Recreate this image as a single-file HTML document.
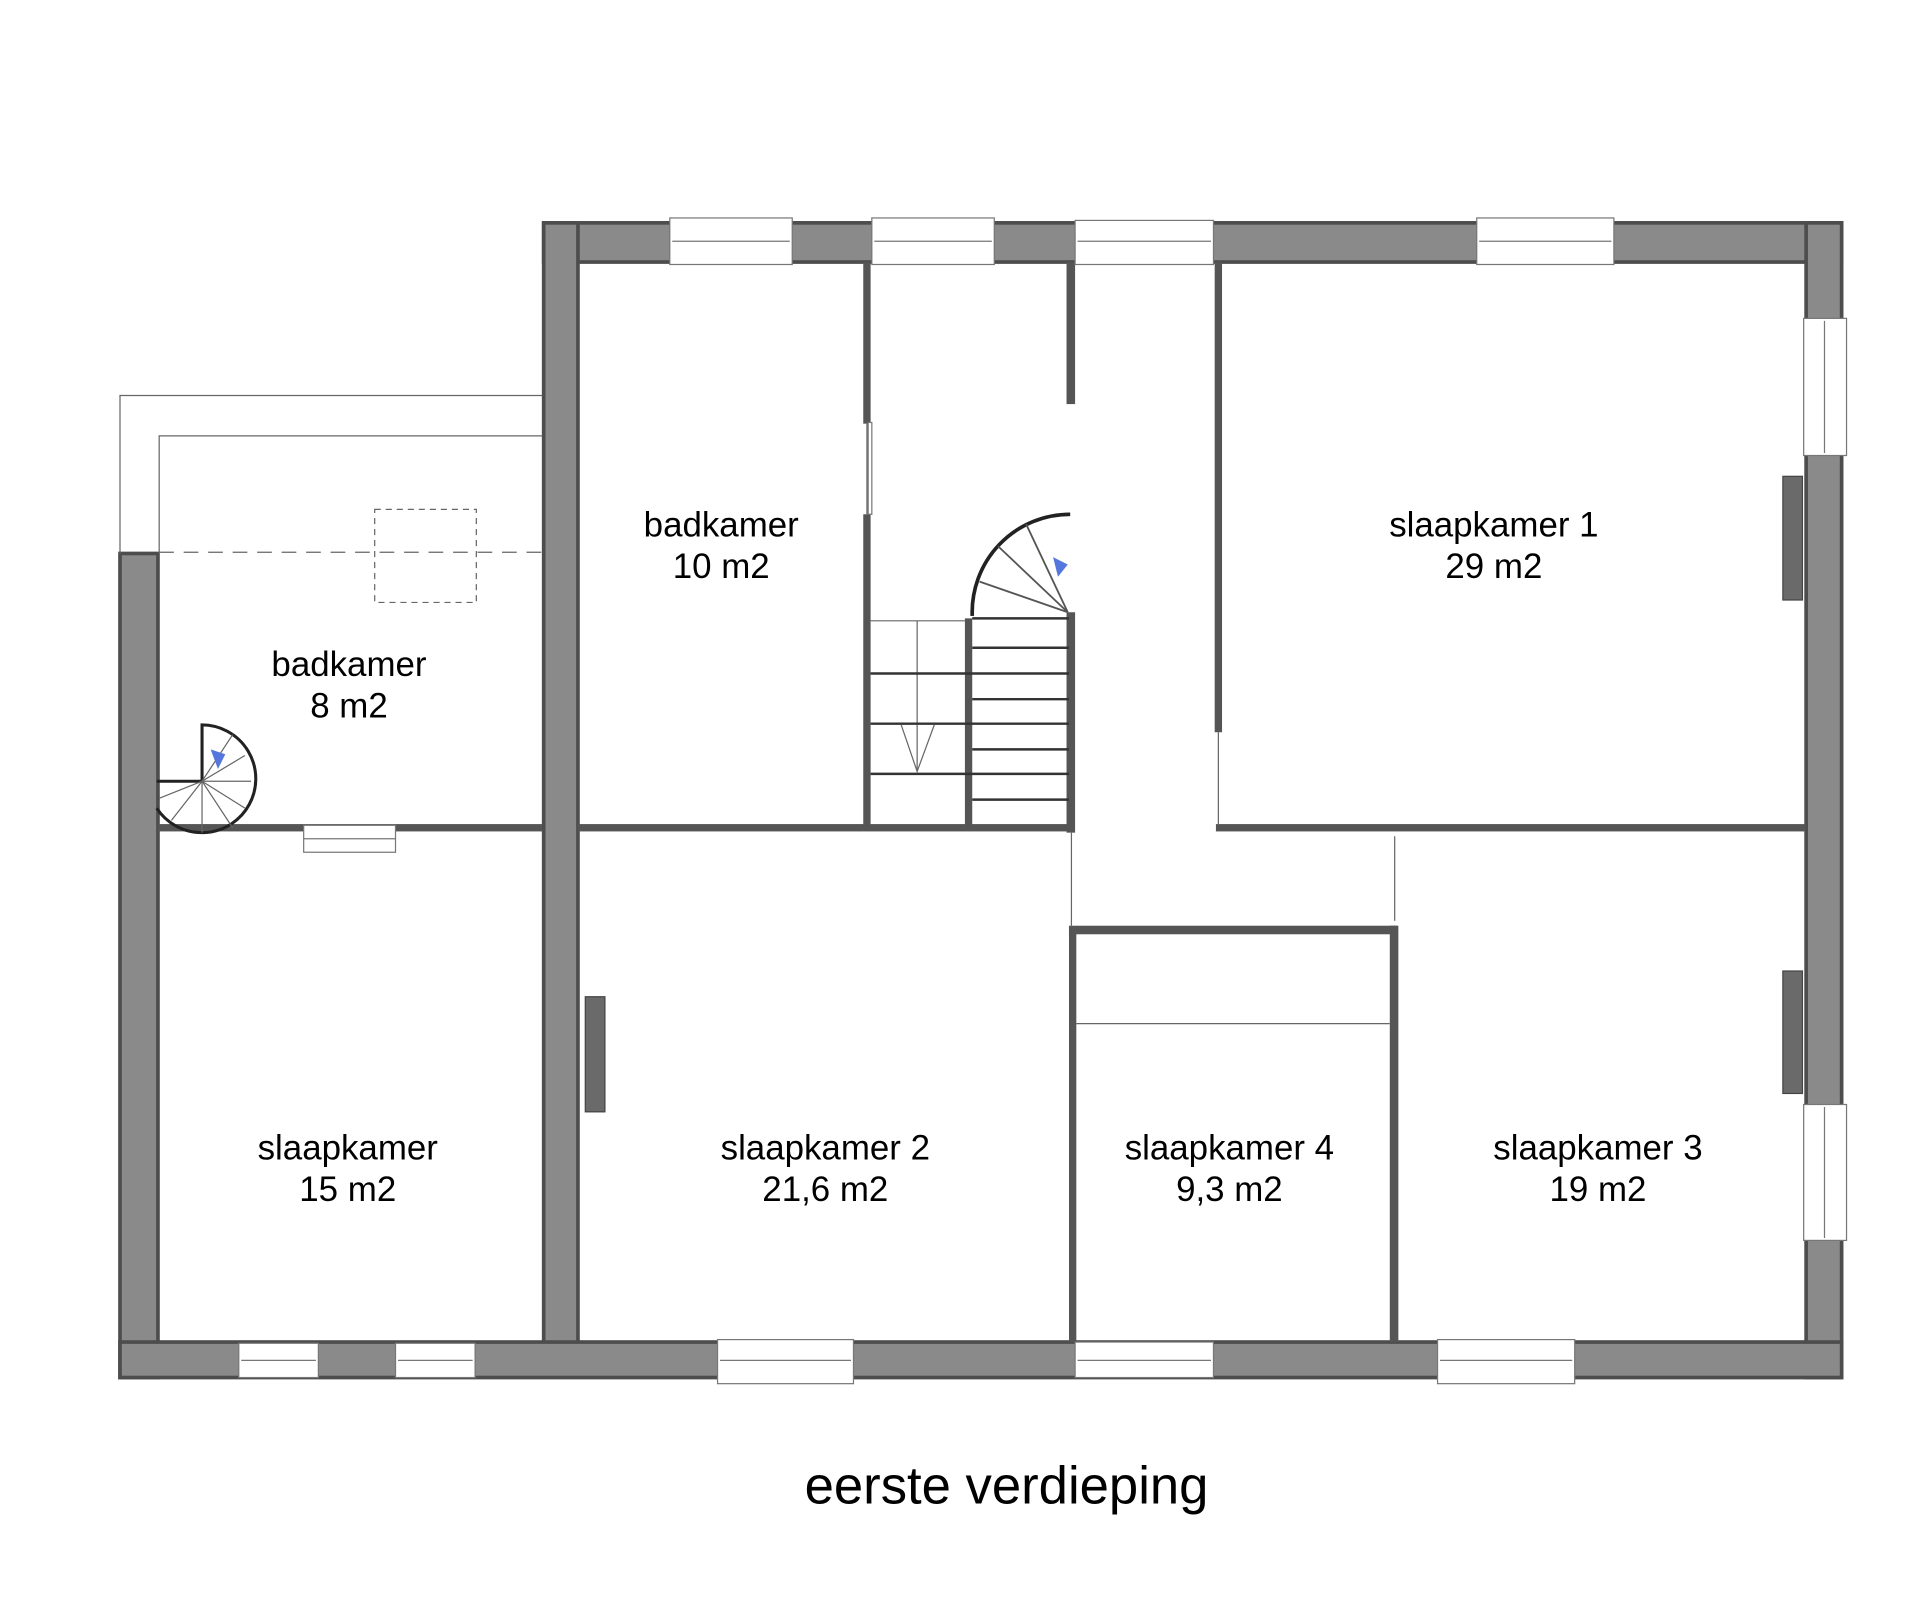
<!DOCTYPE html>
<html><head><meta charset="utf-8"><style>
html,body{margin:0;padding:0;background:#fff;width:1920px;height:1620px;overflow:hidden}
svg{display:block}
text{font-family:"Liberation Sans",sans-serif;fill:#000}
</style></head><body>
<svg width="1920" height="1620" viewBox="0 0 1568 1323" preserveAspectRatio="none">
<g fill="#8a8a8a" stroke="#4d4d4d" stroke-width="3">
<rect x="444" y="182" width="1060" height="32"/>
<rect x="1475" y="182" width="29" height="943"/>
<rect x="444" y="182" width="28" height="928"/>
<rect x="98" y="452" width="31" height="673"/>
<rect x="98" y="1096" width="1406" height="29"/>
</g>
<g fill="#555">
<rect x="129" y="673" width="314" height="6"/>
<rect x="472" y="673" width="401" height="6"/>
<rect x="993" y="673" width="482" height="6"/>
<rect x="871" y="214" width="7" height="116"/>
<rect x="871" y="500" width="7" height="180"/>
<rect x="873" y="757" width="6" height="339"/>
<rect x="873" y="756" width="268" height="7"/>
<rect x="1135" y="756" width="7" height="340"/>
<rect x="992" y="214" width="6" height="384"/>
<rect x="705" y="214" width="6" height="132"/>
<rect x="705" y="420" width="6" height="254"/>
<rect x="788" y="505" width="6" height="169"/>
</g>
<g stroke="#666" stroke-width="1" fill="none">
<line x1="875" y1="680" x2="875" y2="757"/>
<line x1="995" y1="598" x2="995" y2="673"/>
<line x1="708" y1="346" x2="708" y2="420"/>
<line x1="1139" y1="683" x2="1139" y2="752"/>
<line x1="879" y1="836" x2="1135" y2="836"/>
<polyline points="98,452 98,323 443,323"/>
<polyline points="130,452 130,356 443,356"/>
<line x1="130" y1="451" x2="443" y2="451" stroke-dasharray="12,8"/>
<rect x="306" y="416" width="83" height="76" stroke-dasharray="5,4"/>
<line x1="711" y1="507" x2="788" y2="507"/>
<line x1="749" y1="507" x2="749" y2="630"/>
<polyline points="736,592 749,630 763,592"/>
</g>
<g stroke="#333" stroke-width="2">
<line x1="711" y1="550" x2="873" y2="550"/>
<line x1="711" y1="591" x2="873" y2="591"/>
<line x1="711" y1="632" x2="873" y2="632"/>
<line x1="794" y1="505" x2="873" y2="505"/>
<line x1="794" y1="529" x2="873" y2="529"/>
<line x1="794" y1="571" x2="873" y2="571"/>
<line x1="794" y1="612" x2="873" y2="612"/>
<line x1="794" y1="653" x2="873" y2="653"/>
</g>
<path d="M794,503 A80,80 0 0 1 874,420" fill="none" stroke="#222" stroke-width="3"/>
<g stroke="#555" stroke-width="1.5"><line x1="872" y1="500" x2="800" y2="475"/><line x1="872" y1="500" x2="815" y2="446"/><line x1="872" y1="500" x2="838" y2="428"/></g>
<path d="M860,455 l12,6 -8,10z" fill="#5577dd"/>
<path d="M128,638 L165,638 L165,592 A44,44 0 1 1 128,660" fill="none" stroke="#222" stroke-width="2.5"/>
<g stroke="#666" stroke-width="1"><line x1="165" y1="638" x2="205" y2="638"/><line x1="165" y1="638" x2="200" y2="617"/><line x1="165" y1="638" x2="190" y2="600"/><line x1="165" y1="638" x2="140" y2="670"/><line x1="165" y1="638" x2="165" y2="680"/><line x1="165" y1="638" x2="190" y2="676"/><line x1="165" y1="638" x2="200" y2="660"/><line x1="165" y1="638" x2="130" y2="652"/></g>
<path d="M172,612 l12,4 -6,12z" fill="#5577dd"/>
<g fill="#fff" stroke="#777" stroke-width="1">
<rect x="547" y="178" width="100" height="38"/><rect x="712" y="178" width="100" height="38"/>
<rect x="878" y="180" width="113" height="36"/><rect x="1206" y="178" width="112" height="38"/>
<rect x="1473" y="260" width="35" height="112"/><rect x="1473" y="902" width="35" height="111"/>
<rect x="195" y="1097" width="65" height="28"/><rect x="323" y="1097" width="65" height="28"/>
<rect x="586" y="1094" width="111" height="36"/><rect x="878" y="1096" width="113" height="29"/>
<rect x="1174" y="1094" width="112" height="36"/>
<rect x="248" y="674" width="75" height="22"/>
<rect x="709" y="345" width="3" height="75"/>
</g>
<g stroke="#777" stroke-width="1"><line x1="549" y1="197" x2="645" y2="197"/><line x1="714" y1="197" x2="810" y2="197"/><line x1="880" y1="197" x2="989" y2="197"/><line x1="1208" y1="197" x2="1316" y2="197"/><line x1="1490" y1="262" x2="1490" y2="370"/><line x1="1490" y1="904" x2="1490" y2="1011"/><line x1="197" y1="1111" x2="258" y2="1111"/><line x1="325" y1="1111" x2="386" y2="1111"/><line x1="588" y1="1111" x2="695" y2="1111"/><line x1="880" y1="1111" x2="989" y2="1111"/><line x1="1176" y1="1111" x2="1284" y2="1111"/><line x1="248" y1="685" x2="323" y2="685"/></g>
<g fill="#6a6a6a" stroke="#444" stroke-width="1">
<rect x="1456" y="389" width="16" height="101"/><rect x="1456" y="793" width="16" height="100"/><rect x="478" y="814" width="16" height="94"/>
</g>
<g font-size="28.5" text-anchor="middle">
<text x="589" y="438">badkamer</text><text x="589" y="472">10 m2</text>
<text x="1220" y="438">slaapkamer 1</text><text x="1220" y="472">29 m2</text>
<text x="285" y="552">badkamer</text><text x="285" y="586">8 m2</text>
<text x="284" y="947">slaapkamer</text><text x="284" y="981">15 m2</text>
<text x="674" y="947">slaapkamer 2</text><text x="674" y="981">21,6 m2</text>
<text x="1004" y="947">slaapkamer 4</text><text x="1004" y="981">9,3 m2</text>
<text x="1305" y="947">slaapkamer 3</text><text x="1305" y="981">19 m2</text>
<text x="822" y="1228" font-size="43">eerste verdieping</text>
</g>
</svg>
</body></html>
